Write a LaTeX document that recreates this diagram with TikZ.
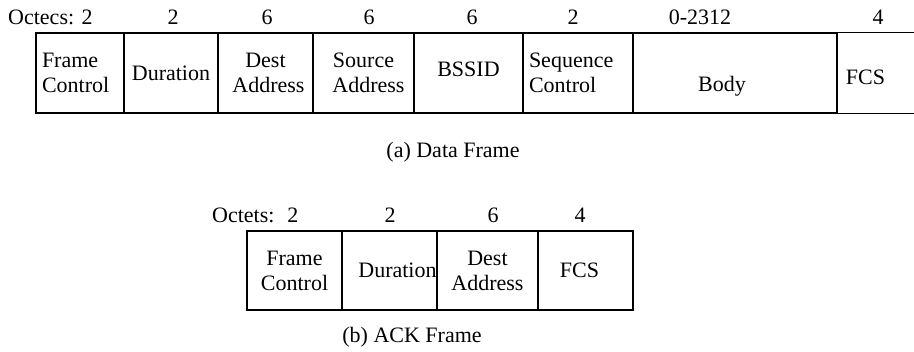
\documentclass[tikz,border=0pt]{standalone}
\usepackage{fontspec}
\setmainfont{Liberation Serif}
\begin{document}
\begin{tikzpicture}[x=1pt,y=-1pt,
  every node/.style={font=\fontsize{22}{25}\selectfont, inner sep=0pt},
  cell/.style={draw, line width=1.2pt, minimum height=80pt, align=center},
  lbl/.style={anchor=base},
  captxt/.style={anchor=center}]
\useasboundingbox (0,0) rectangle (914,352);
% ---- (a) Data Frame ----
\node[cell, minimum width=88pt, text width=76pt, align=left] (d1) at (80,73) {Frame\\Control};
\node[cell, minimum width=94pt] (d2) at (171,73) {Duration};
\node[cell, minimum width=95pt] (d3) at (265.5,73) {Dest\\\hspace*{6pt}Address};
\node[cell, minimum width=101pt] (d4) at (363.5,73) {Source\\\hspace*{10pt}Address};
\node[cell, minimum width=109pt] (d5) at (468.5,73) {\raisebox{-4pt}[0pt][0pt]{BSSID}};
\node[cell, minimum width=110pt, text width=98pt, align=left] (d6) at (578,73) {Sequence\\Control};
\node[cell, minimum width=204pt] (d7) at (735,73) {\hspace*{-26pt}\raisebox{-19pt}[0pt][0pt]{Body}};
\node[minimum width=77pt, minimum height=80pt] (d8) at (875.5,73) {\hspace*{-20pt}\raisebox{-12pt}[0pt][0pt]{FCS}};
\draw[line width=1.2pt] (d8.north west) -- (d8.north east);
\draw[line width=1.2pt] (d8.south west) -- (d8.south east);
\node[anchor=base west] (oa) at (8,25) {Octecs: 2};
\node[lbl] (na2) at (173,25) {2};
\node[lbl] (na3) at (267,25) {6};
\node[lbl] (na4) at (369,25) {6};
\node[lbl] (na5) at (472,25) {6};
\node[lbl] (na6) at (573,25) {2};
\node[lbl] (na7) at (700,25) {0-2312};
\node[lbl] (na8) at (878,25) {4};
\node[captxt] (capa) at (453,152) {(a) Data Frame};
% ---- (b) ACK Frame ----
\node[cell, minimum width=95pt, minimum height=79pt] (k1) at (294.5,270.5) {Frame\\Control};
\node[cell, minimum width=95pt, minimum height=79pt] (k2) at (389.5,270.5) {\hspace*{16pt}Duration};
\node[cell, minimum width=101pt, minimum height=79pt] (k3) at (487.5,270.5) {Dest\\Address};
\node[cell, minimum width=95pt, minimum height=79pt] (k4) at (585.5,270.5) {\hspace*{-12pt}FCS};
\node[anchor=base west] (ob) at (212,223) {Octets:~ 2};
\node[lbl] (nb2) at (390,223) {2};
\node[lbl] (nb3) at (493,223) {6};
\node[lbl] (nb4) at (580,223) {4};
\node[captxt] (capb) at (412,337) {(b) ACK Frame};
\end{tikzpicture}
\end{document}
